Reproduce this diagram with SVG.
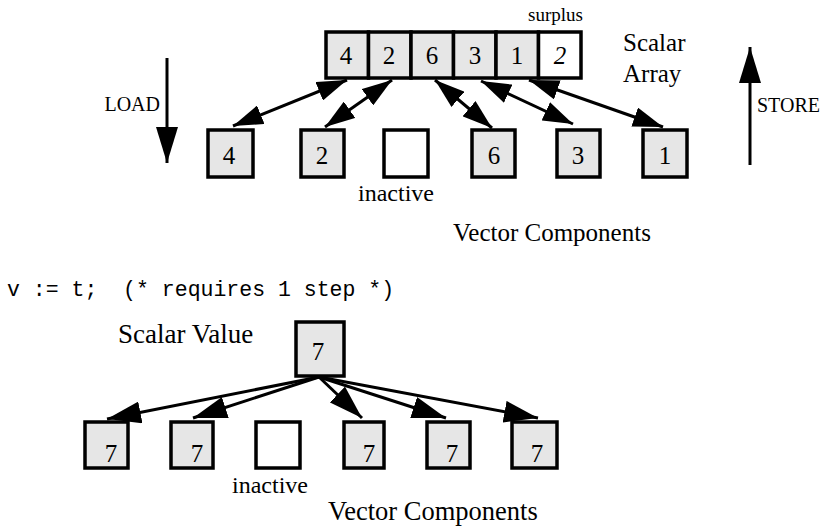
<svg xmlns="http://www.w3.org/2000/svg" width="840" height="528" viewBox="0 0 840 528">
  <style>
    .cell { fill: #e6e6e6; stroke: #000; stroke-width: 3.5; }
    .empty { fill: #fff; stroke: #000; stroke-width: 3.5; }
    .num { font-family: "Liberation Serif", "Times New Roman", serif; font-size: 25px; fill: #000; text-anchor: middle; }
    .lbl { font-family: "Liberation Serif", "Times New Roman", serif; font-size: 25px; fill: #000; }
    .tiny { font-size: 19px; }
    .small { font-size: 20px; }
    .mid { font-size: 24px; }
    .big { font-size: 27px; }
    .wide { font-size: 26.5px; }
    .code { font-family: "Liberation Mono", "Courier New", monospace; font-size: 21.5px; fill: #000; white-space: pre; }
    .link { stroke: #000; stroke-width: 3; fill: none; }
  </style>
  <defs>
    <marker id="head" viewBox="0 0 30 20" refX="30" refY="10" markerWidth="30" markerHeight="20" markerUnits="userSpaceOnUse" orient="auto-start-reverse">
      <path d="M0,0 L30,10 L0,20 z" fill="#000"/>
    </marker>
    <marker id="fanhead" viewBox="0 0 34 22" refX="34" refY="11" markerWidth="34" markerHeight="22" markerUnits="userSpaceOnUse" orient="auto">
      <path d="M0,0 L34,11 L0,22 z" fill="#000"/>
    </marker>
    <marker id="bighead" viewBox="0 0 36 22" refX="36" refY="11" markerWidth="36" markerHeight="22" markerUnits="userSpaceOnUse" orient="auto">
      <path d="M0,0 L36,11 L0,22 z" fill="#000"/>
    </marker>
  </defs>

  <!-- scalar array -->
  <g id="scalar-array">
    <rect class="cell" x="326" y="32" width="42.5" height="46"/>
    <rect class="cell" x="368.5" y="32" width="42.5" height="46"/>
    <rect class="cell" x="411" y="32" width="42.5" height="46"/>
    <rect class="cell" x="453.5" y="32" width="42.5" height="46"/>
    <rect class="cell" x="496" y="32" width="42.5" height="46"/>
    <rect class="empty" x="538.5" y="32" width="42.5" height="46"/>
    <text class="num" x="346" y="64">4</text>
    <text class="num" x="389" y="64">2</text>
    <text class="num" x="432" y="64">6</text>
    <text class="num" x="475" y="64">3</text>
    <text class="num" x="517" y="64">1</text>
    <text class="num" x="560" y="64" font-style="italic">2</text>
  </g>
  <g id="labels-top">
    <text class="lbl tiny" x="528" y="21">surplus</text>
    <text class="lbl" x="623" y="51">Scalar</text>
    <text class="lbl" x="623" y="82">Array</text>
    <text class="lbl small" x="160" y="111" text-anchor="end">LOAD</text>
    <text class="lbl small" x="757" y="112">STORE</text>
    <text class="lbl mid" x="358" y="201">inactive</text>
    <text class="lbl" x="453" y="241">Vector Components</text>
  </g>

  <!-- vector components, LOAD/STORE -->
  <g id="vec-top-4"><rect class="cell" x="208" y="130" width="45" height="47"/><text class="num" x="229" y="164">4</text></g>
  <g id="vec-top-2"><rect class="cell" x="301" y="130" width="43" height="47"/><text class="num" x="322" y="164">2</text></g>
  <g id="vec-top-inactive"><rect class="empty" x="384" y="130" width="44" height="47"/></g>
  <g id="vec-top-6"><rect class="cell" x="472" y="130" width="43" height="47"/><text class="num" x="494" y="164">6</text></g>
  <g id="vec-top-3"><rect class="cell" x="557" y="130" width="43" height="47"/><text class="num" x="578" y="164">3</text></g>
  <g id="vec-top-1"><rect class="cell" x="643" y="130" width="44" height="47"/><text class="num" x="665" y="164">1</text></g>

  <!-- assignment example -->
  <text class="code" x="7" y="296">v := t;  (* requires 1 step *)</text>
  <text class="lbl big" x="118" y="343">Scalar Value</text>
  <g id="scalar-value"><rect class="cell" x="296" y="322" width="48" height="54"/><text class="num" x="318" y="360">7</text></g>

  <g id="vec-bot-1"><rect class="cell" x="85" y="422" width="43" height="46"/><text class="num" x="111" y="462">7</text></g>
  <g id="vec-bot-2"><rect class="cell" x="171" y="422" width="42" height="46"/><text class="num" x="197" y="462">7</text></g>
  <g id="vec-bot-inactive"><rect class="empty" x="256" y="422" width="44" height="46"/></g>
  <g id="vec-bot-3"><rect class="cell" x="344" y="422" width="40" height="46"/><text class="num" x="369" y="462">7</text></g>
  <g id="vec-bot-4"><rect class="cell" x="427" y="422" width="43" height="46"/><text class="num" x="452" y="462">7</text></g>
  <g id="vec-bot-5"><rect class="cell" x="512" y="422" width="45" height="46"/><text class="num" x="537" y="462">7</text></g>
  <text class="lbl mid" x="232" y="493">inactive</text>
  <text class="lbl wide" x="328" y="520">Vector Components</text>

  <!-- connectors -->
  <g id="connectors">
    <line class="link" x1="167" y1="58" x2="167" y2="163" marker-end="url(#bighead)"/>
    <line class="link" x1="750" y1="165" x2="750" y2="47" marker-end="url(#bighead)"/>

    <line class="link" x1="347" y1="80" x2="233" y2="126" marker-start="url(#head)" marker-end="url(#head)"/>
    <line class="link" x1="392" y1="80" x2="325" y2="127" marker-start="url(#head)" marker-end="url(#head)"/>
    <line class="link" x1="435" y1="80" x2="492" y2="128" marker-start="url(#head)" marker-end="url(#head)"/>
    <line class="link" x1="481" y1="81" x2="573" y2="124" marker-start="url(#head)" marker-end="url(#head)"/>
    <line class="link" x1="529" y1="80" x2="663" y2="127" marker-start="url(#head)" marker-end="url(#head)"/>

    <line class="link" x1="319" y1="377" x2="107" y2="419" marker-end="url(#fanhead)"/>
    <line class="link" x1="319" y1="377" x2="193" y2="418" marker-end="url(#fanhead)"/>
    <line class="link" x1="319" y1="377" x2="362" y2="418" marker-end="url(#fanhead)"/>
    <line class="link" x1="319" y1="377" x2="446" y2="418" marker-end="url(#fanhead)"/>
    <line class="link" x1="319" y1="377" x2="538" y2="418" marker-end="url(#fanhead)"/>
  </g>
</svg>
